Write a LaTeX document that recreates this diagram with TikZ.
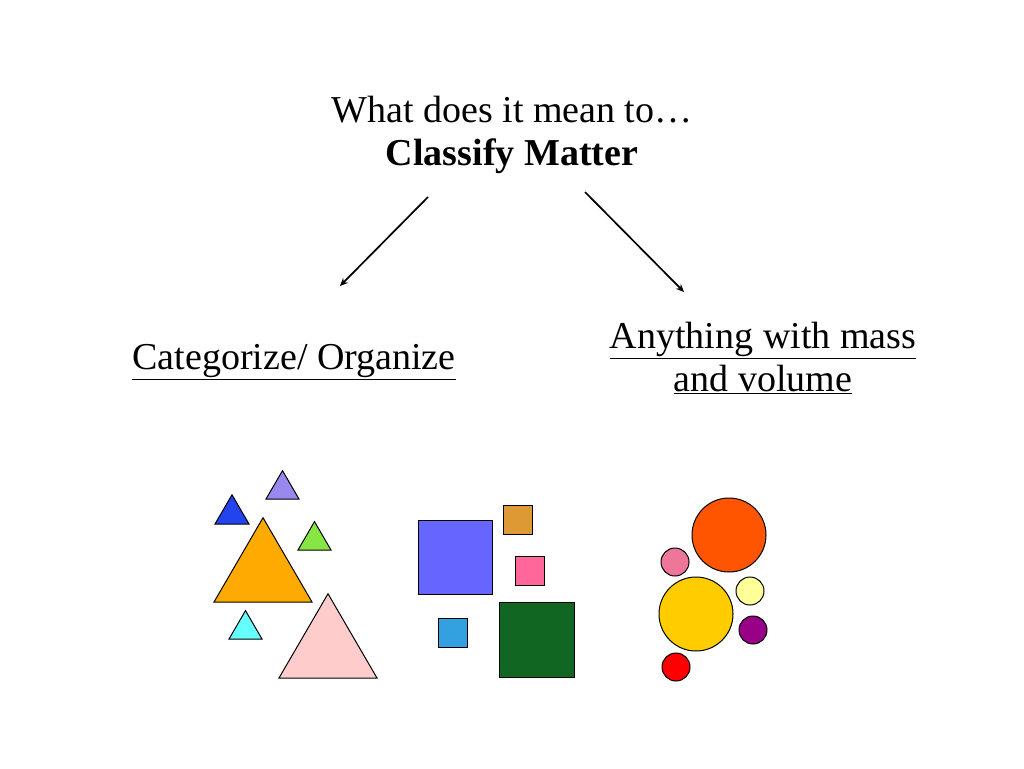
\documentclass[tikz,border=0pt]{standalone}
\usepackage{fontspec}
\setmainfont{Liberation Serif}
\usepackage{xcolor}
\usetikzlibrary{arrows.meta, positioning}
\definecolor{triLilac}{RGB}{153,136,238}
\definecolor{triBlue}{RGB}{34,68,238}
\definecolor{triOrange}{RGB}{255,170,0}
\definecolor{triGreen}{RGB}{136,230,68}
\definecolor{triCyan}{RGB}{102,255,255}
\definecolor{triPink}{RGB}{255,204,204}
\definecolor{sqViolet}{RGB}{102,102,255}
\definecolor{sqOchre}{RGB}{221,153,51}
\definecolor{sqRose}{RGB}{255,102,153}
\definecolor{sqSky}{RGB}{51,160,224}
\definecolor{sqForest}{RGB}{17,102,34}
\definecolor{dotFlame}{RGB}{255,85,0}
\definecolor{dotPink}{RGB}{238,119,153}
\definecolor{dotGold}{RGB}{255,204,0}
\definecolor{dotCream}{RGB}{255,255,153}
\definecolor{dotPlum}{RGB}{153,0,136}
\definecolor{dotRed}{RGB}{255,0,0}
\tikzset{
    titletext/.style={
        align=center,
        inner sep=0pt,
        font=\fontsize{38}{43}\selectfont
    },
    labeltext/.style={
        align=center,
        inner sep=0pt,
        font=\fontsize{38}{43}\selectfont
    },
    flowarrow/.style={-{Stealth[length=8pt, width=7pt]}, line width=1.7pt, draw=black},
    shapeline/.style={draw=black, line width=1pt}
}

\begin{document}
\begin{tikzpicture}[x=1pt, y=-1pt]
        \useasboundingbox (0,0) rectangle (1024,768);
        \node[titletext] (title) at (512,135) {What does it mean to…\\\textbf{Classify Matter}};
        \node[labeltext] (organize) at (294,362) {\underline{Categorize/ Organize}};
        \node[labeltext] (matter) at (763,358) {\underline{Anything with mass}\\\underline{and volume}};
        \coordinate (leftstart) at (428,197);
        \coordinate (leftend) at (340,286);
        \coordinate (rightstart) at (585,192);
        \coordinate (rightend) at (684,292);
        \draw[flowarrow] (leftstart) -- (leftend);
        \draw[flowarrow] (rightstart) -- (rightend);
        % triangles: base centre x, base y, width
        \foreach \bx/\by/\w/\col in {282.5/499/33/triLilac, 232/524/34/triBlue, 263/602/98/triOrange,
                314.5/550/33/triGreen, 245.5/639/33/triCyan, 328/678/98/triPink}
            \filldraw[shapeline, fill=\col] (\bx-\w/2,\by) -- (\bx+\w/2,\by) -- (\bx,\by-0.86*\w) -- cycle;
        % squares: top left corner, side
        \foreach \sx/\sy/\s/\col in {418/520/74/sqViolet, 503/505/29/sqOchre, 515/556/29/sqRose,
                438/618/29/sqSky, 499/602/75/sqForest}
            \filldraw[shapeline, fill=\col] (\sx,\sy) rectangle (\sx+\s,\sy+\s);
        % circles
        \foreach \cx/\cy/\r/\col in {729/535/37/dotFlame, 675/562/14/dotPink, 696/614/37/dotGold,
                750/591/14/dotCream, 753/630/14/dotPlum, 676/667/14/dotRed}
            \filldraw[shapeline, fill=\col] (\cx,\cy) circle (\r);
    \end{tikzpicture}
\end{document}
